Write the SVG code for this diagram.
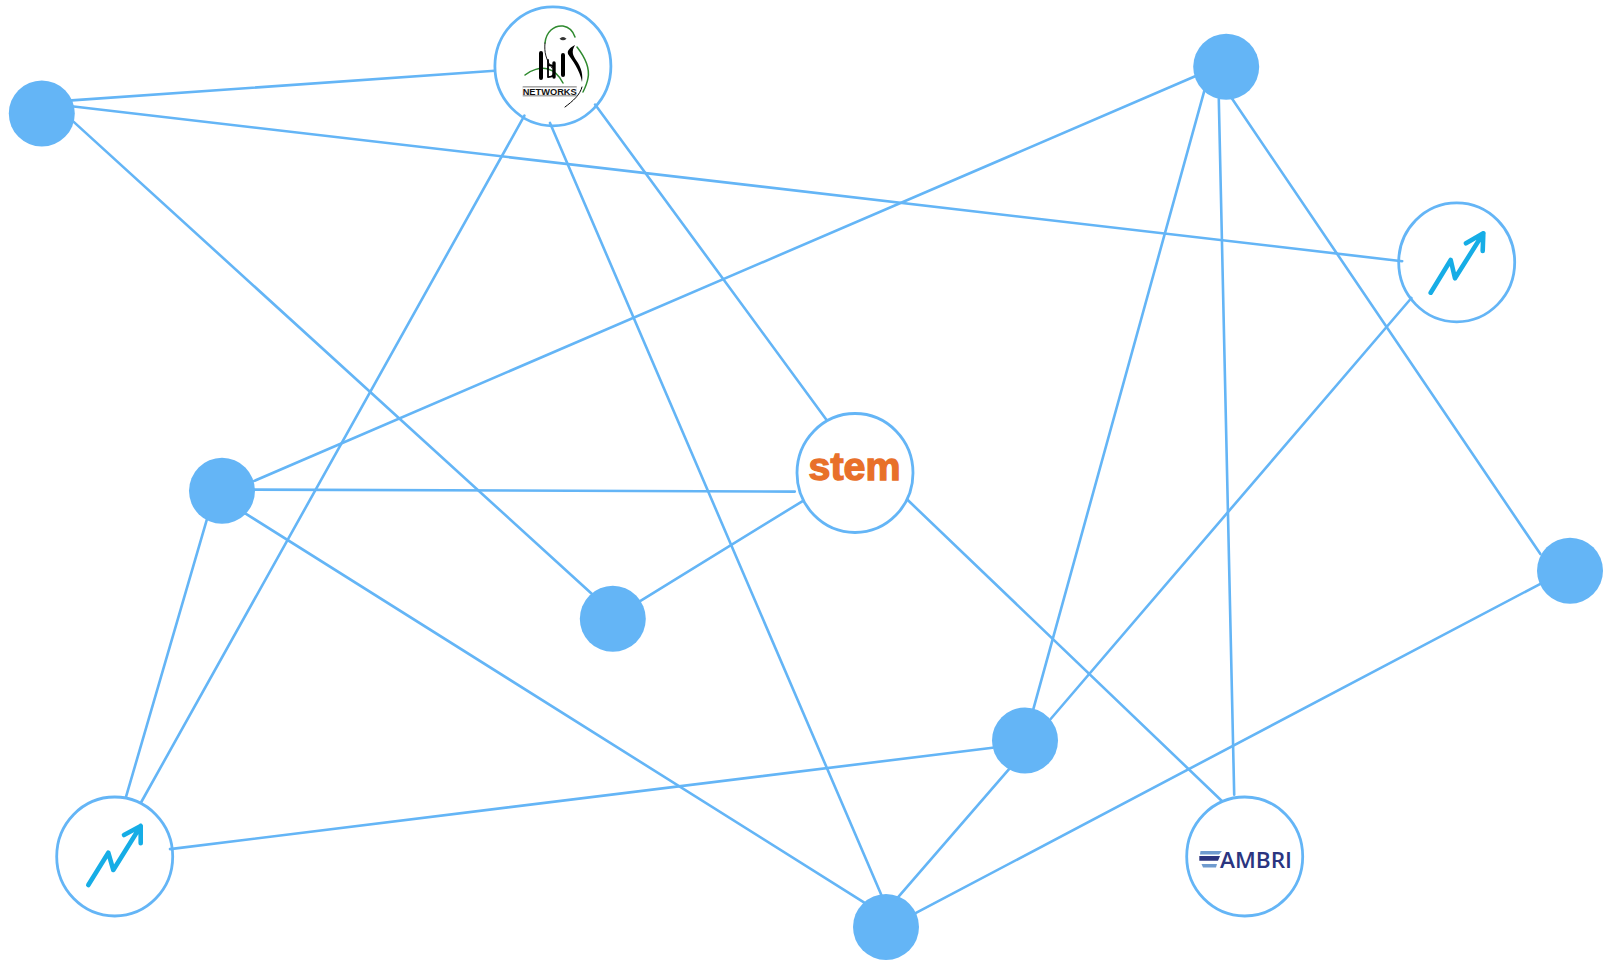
<svg xmlns="http://www.w3.org/2000/svg" width="1606" height="964" viewBox="0 0 1606 964">
<style>
.c line{stroke:#64b5f6;stroke-width:2.6;stroke-linecap:round;fill:none}
.dot{fill:#64b5f6}
.ring{fill:#fff;stroke:#64b5f6;stroke-width:2.8}
.up{fill:none;stroke:#16ade6;stroke-width:4.6;stroke-linecap:round;stroke-linejoin:round}
.ibi{fill:none;stroke:#000;stroke-linecap:round;stroke-linejoin:round}
.grn{fill:none;stroke:#2f8a2f;stroke-width:1.5;stroke-linecap:round}
text{font-family:"Liberation Sans",Arial,sans-serif}
</style>
<rect width="1606" height="964" fill="#fff"/>
<g id="dot-1"><circle class="dot" cx="41.8" cy="113.5" r="33"/></g>
<g id="dot-2"><circle class="dot" cx="222" cy="490.8" r="33"/></g>
<g id="dot-3"><circle class="dot" cx="612.8" cy="618.8" r="33"/></g>
<g id="dot-4"><circle class="dot" cx="886" cy="927" r="33"/></g>
<g id="dot-5"><circle class="dot" cx="1025" cy="740.5" r="33"/></g>
<g id="dot-6"><circle class="dot" cx="1226.2" cy="66.8" r="33"/></g>
<g id="dot-7"><circle class="dot" cx="1570" cy="570.7" r="33"/></g>
<g id="ibi">
<ellipse class="ring" cx="552.9" cy="66.3" rx="58" ry="59.5"/>
<path class="grn" d="M545 43C546 32 554 25 563 26C569 27 573 31 575 37"/>
<path class="grn" d="M577 47C584 56 590 68 588 78C587 84 585 88 583 92"/>
<path class="grn" d="M525 75C531 70 540 67 548 69C555 71 560 77 563 83"/>
<path class="ibi" stroke-width="0.9" d="M545 43C544 52 546 60 552 68"/>
<path class="ibi" stroke-width="1" d="M582 87C580 95 573 101 565 107"/>
<path d="M559.5 38.7Q563 35.5 566.5 38.7Q563 42 559.5 38.7Z" fill="#333"/>
<path d="M575 45C570 48 567 50 568 54C572 60 580 70 582 82C583 76 582 68 576 60C573 55 571 52 575 45Z" fill="#000"/>
<path class="ibi" stroke-width="4" d="M541 53V78M563 55V75"/>
<path class="ibi" stroke-width="3.4" d="M554 63V77"/>
<path class="ibi" stroke-width="1.8" d="M548 66C551 64 554 66 554 69M548 77C551 77 554 76 554 73M548 60V77"/>
<rect x="522.7" y="86" width="54" height="10.5" fill="#a9a9a9"/>
<rect x="522.7" y="87.6" width="54" height="7.2" fill="#fff"/>
<text x="549.7" y="94.5" font-size="8.8" font-weight="700" text-anchor="middle" textLength="54" lengthAdjust="spacingAndGlyphs" fill="#111">NETWORKS</text>
</g>
<g id="stem">
<ellipse class="ring" cx="855" cy="473" rx="58" ry="59.5"/>
<text x="854.5" y="480.2" font-size="38" font-weight="700" text-anchor="middle" textLength="92" lengthAdjust="spacingAndGlyphs" fill="#e8702a" stroke="#e8702a" stroke-width="1.3">stem</text>
</g>
<g id="ambri">
<ellipse class="ring" cx="1244.7" cy="856.5" rx="58" ry="59.5"/>
<path d="M1200.5 851H1222L1219 854.5H1200Z" fill="#6f9bcf"/>
<path d="M1199.3 856H1220L1218 860.7H1199.3Z" fill="#2b3580"/>
<path d="M1201.5 864H1217L1216 867.5H1203Z" fill="#6f9bcf"/>
<text x="1220" y="867.5" style="font-family:'Open Sans',sans-serif" font-size="21" textLength="72" lengthAdjust="spacingAndGlyphs" fill="#2b3580" font-weight="600">AMBRI</text>
</g>
<g id="growth-1">
<ellipse class="ring" cx="114.7" cy="856.5" rx="58" ry="59.5"/>
<path class="up" d="M88.3 885L108.3 852.7L113.3 870L140.7 826M124 835L140.7 826L140.7 843.3"/>
</g>
<g id="growth-2">
<ellipse class="ring" cx="1456.7" cy="262.3" rx="58" ry="59.5"/>
<path class="up" d="M1430.7 292.7L1450.7 260L1455 278.3L1483.3 233.3M1466 243.3L1483.3 233.3L1482.7 251"/>
</g>
<g class="c" id="connectors">
<line x1="71.7" y1="100.4" x2="494.7" y2="70.7"/>
<line x1="73.7" y1="106.5" x2="1402.2" y2="261.2"/>
<line x1="73.7" y1="121.9" x2="592" y2="594"/>
<line x1="524.4" y1="115.7" x2="141.3" y2="802"/>
<line x1="550" y1="122.9" x2="881.9" y2="896.2"/>
<line x1="595.1" y1="104.5" x2="826.6" y2="419.9"/>
<line x1="1196.3" y1="75.8" x2="253" y2="481.4"/>
<line x1="254" y1="489.6" x2="794.8" y2="491.6"/>
<line x1="206.9" y1="519.3" x2="126" y2="796.9"/>
<line x1="244.8" y1="513.1" x2="865.5" y2="903.4"/>
<line x1="803" y1="500.8" x2="640.1" y2="601.2"/>
<line x1="907.5" y1="499.8" x2="1221.9" y2="801"/>
<line x1="1204.5" y1="90.1" x2="1033.4" y2="708.8"/>
<line x1="1218.8" y1="99.3" x2="1234.2" y2="794.8"/>
<line x1="1231.1" y1="97.3" x2="1540.4" y2="554.1"/>
<line x1="1411.4" y1="298" x2="1049.8" y2="720"/>
<line x1="1540.4" y1="583.8" x2="914.6" y2="913.6"/>
<line x1="992.5" y1="747.7" x2="170" y2="849.1"/>
<line x1="1009.9" y1="768.2" x2="896.2" y2="899.3"/>
</g>
</svg>
